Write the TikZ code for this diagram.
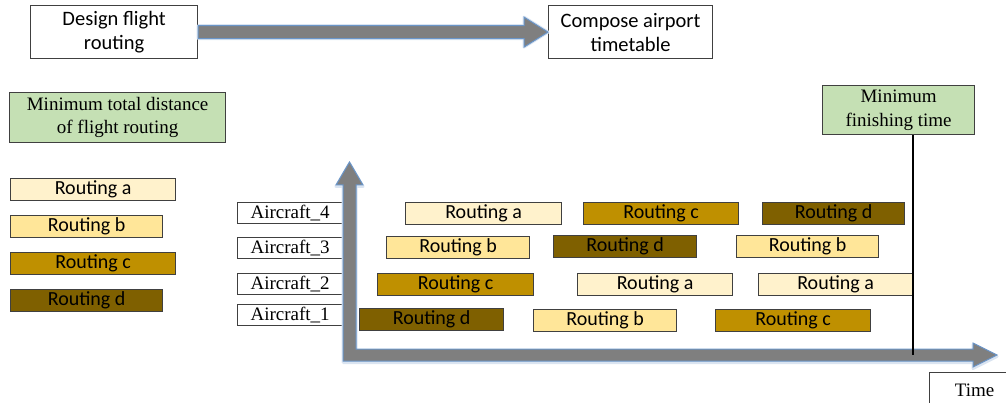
\documentclass[tikz,border=0pt]{standalone}
\usepackage{fontspec}
\setmainfont{Liberation Serif}
\newfontfamily\calfont{Carlito}
\usetikzlibrary{calc}

\definecolor{boxline}{HTML}{404040}
\definecolor{greenfill}{HTML}{C5E0B4}
\definecolor{routeA}{HTML}{FFF2CC}
\definecolor{routeB}{HTML}{FFE699}
\definecolor{routeC}{HTML}{BF9000}
\definecolor{routeD}{HTML}{7F6000}
\definecolor{arrowfill}{HTML}{7F7F7F}
\definecolor{arrowline}{HTML}{6A95C8}

\tikzset{
  plainbox/.style={draw=boxline, line width=1.2pt, fill=white, anchor=north west,
    inner sep=0pt, align=center},
  sansbox/.style={plainbox, font=\calfont\fontsize{20.5}{24}\selectfont},
  serifbox/.style={plainbox, font=\fontsize{19}{23.5}\selectfont},
  goalbox/.style={serifbox, fill=greenfill},
  acbox/.style={serifbox, minimum width=105pt, minimum height=21pt},
  routebar/.style={draw=boxline, line width=1.2pt, anchor=north west, inner sep=0pt,
    minimum height=22pt, font=\calfont\fontsize{20}{22}\selectfont},
  ra/.style={routebar, fill=routeA},
  rb/.style={routebar, fill=routeB},
  rc/.style={routebar, fill=routeC},
  rd/.style={routebar, fill=routeD},
  fatarrow/.style={fill=arrowfill, draw=arrowline, line width=1pt, line join=miter},
  arrowglow/.style={draw=arrowline!25, line width=3pt, line join=round, yshift=-1.5pt},
}

\begin{document}
\begin{tikzpicture}[x=1pt, y=-1pt]
\useasboundingbox (0,0) rectangle (1006,403);
\clip (0,0) rectangle (1006,403);

% process boxes on top
\node[sansbox, minimum width=167pt, minimum height=53pt] (design) at (30,5) {Design flight\\routing};
\node[sansbox, minimum width=164pt, minimum height=53pt] (compose) at (548,5) {Compose airport\\timetable};

% broad arrow from design to compose, with a soft glow under it
\foreach \sty in {arrowglow, fatarrow}
  \path[\sty]
    ($(design.east)+(0,-6.5)$) -- ($(compose.west)+(-24,-6.5)$) -- ($(compose.west)+(-24,-15)$)
    -- (compose.west) -- ($(compose.west)+(-24,15)$) -- ($(compose.west)+(-24,6.5)$)
    -- ($(design.east)+(0,6.5)$) -- cycle;

% objective of the routing stage
\node[goalbox, minimum width=216pt, minimum height=50pt] (mindist) at (9,92) {Minimum total distance\\of flight routing};

% legend of routings
\node[ra, minimum width=165pt] (la) at (10,178) {Routing a};
\node[rb, minimum width=152pt] (lb) at (10,215) {Routing b};
\node[rc, minimum width=165pt] (lc) at (10,252) {Routing c};
\node[rd, minimum width=152pt] (ld) at (10,289) {Routing d};

% aircraft labels
\node[acbox] (ac4) at (237,202) {Aircraft\_4};
\node[acbox] (ac3) at (237,237) {Aircraft\_3};
\node[acbox] (ac2) at (237,273) {Aircraft\_2};
\node[acbox] (ac1) at (237,304) {Aircraft\_1};

% axes, with a soft glow under them
\coordinate (origin) at (349.5,355);
\foreach \sty in {arrowglow, fatarrow}
  \path[\sty]
    (343,361) -- (343,185) -- (336,185) -- (349.5,162) -- (363,185) -- (356,185)
    -- (356,349) -- (973,349) -- (973,343) -- (997,355) -- (973,367) -- (973,361) -- cycle;

% schedule of aircraft 4
\node[ra, minimum width=156pt] (a4a) at (405,202) {Routing a};
\node[rc, minimum width=155pt] (a4c) at (583,202) {Routing c};
\node[rd, minimum width=142pt] (a4d) at (762,202) {Routing d};
% schedule of aircraft 3
\node[rb, minimum width=143pt] (a3b) at (386,236) {Routing b};
\node[rd, minimum width=143pt] (a3d) at (553,235) {Routing d};
\node[rb, minimum width=142pt] (a3b2) at (736,235) {Routing b};
% schedule of aircraft 2
\node[rc, minimum width=156pt] (a2c) at (377,273) {Routing c};
\node[ra, minimum width=155pt] (a2a) at (577,273) {Routing a};
\node[ra, minimum width=154pt] (a2a2) at (758,273) {Routing a};
% schedule of aircraft 1
\node[rd, minimum width=144pt] (a1d) at (359,308) {Routing d};
\node[rb, minimum width=143pt] (a1b) at (533,309) {Routing b};
\node[rc, minimum width=155pt] (a1c) at (715,309) {Routing c};

% objective of the timetable stage
\node[goalbox, minimum width=152pt, minimum height=49pt] (minfin) at (822,85) {Minimum\\finishing time};
\draw[line width=2pt] (minfin.south -| a2a2.east) -- (a2a2.east |- origin);

% time axis label, its box running off the page edge
\node[serifbox, minimum width=90pt, minimum height=36pt] (time) at (929,372) {Time};
\end{tikzpicture}
\end{document}
